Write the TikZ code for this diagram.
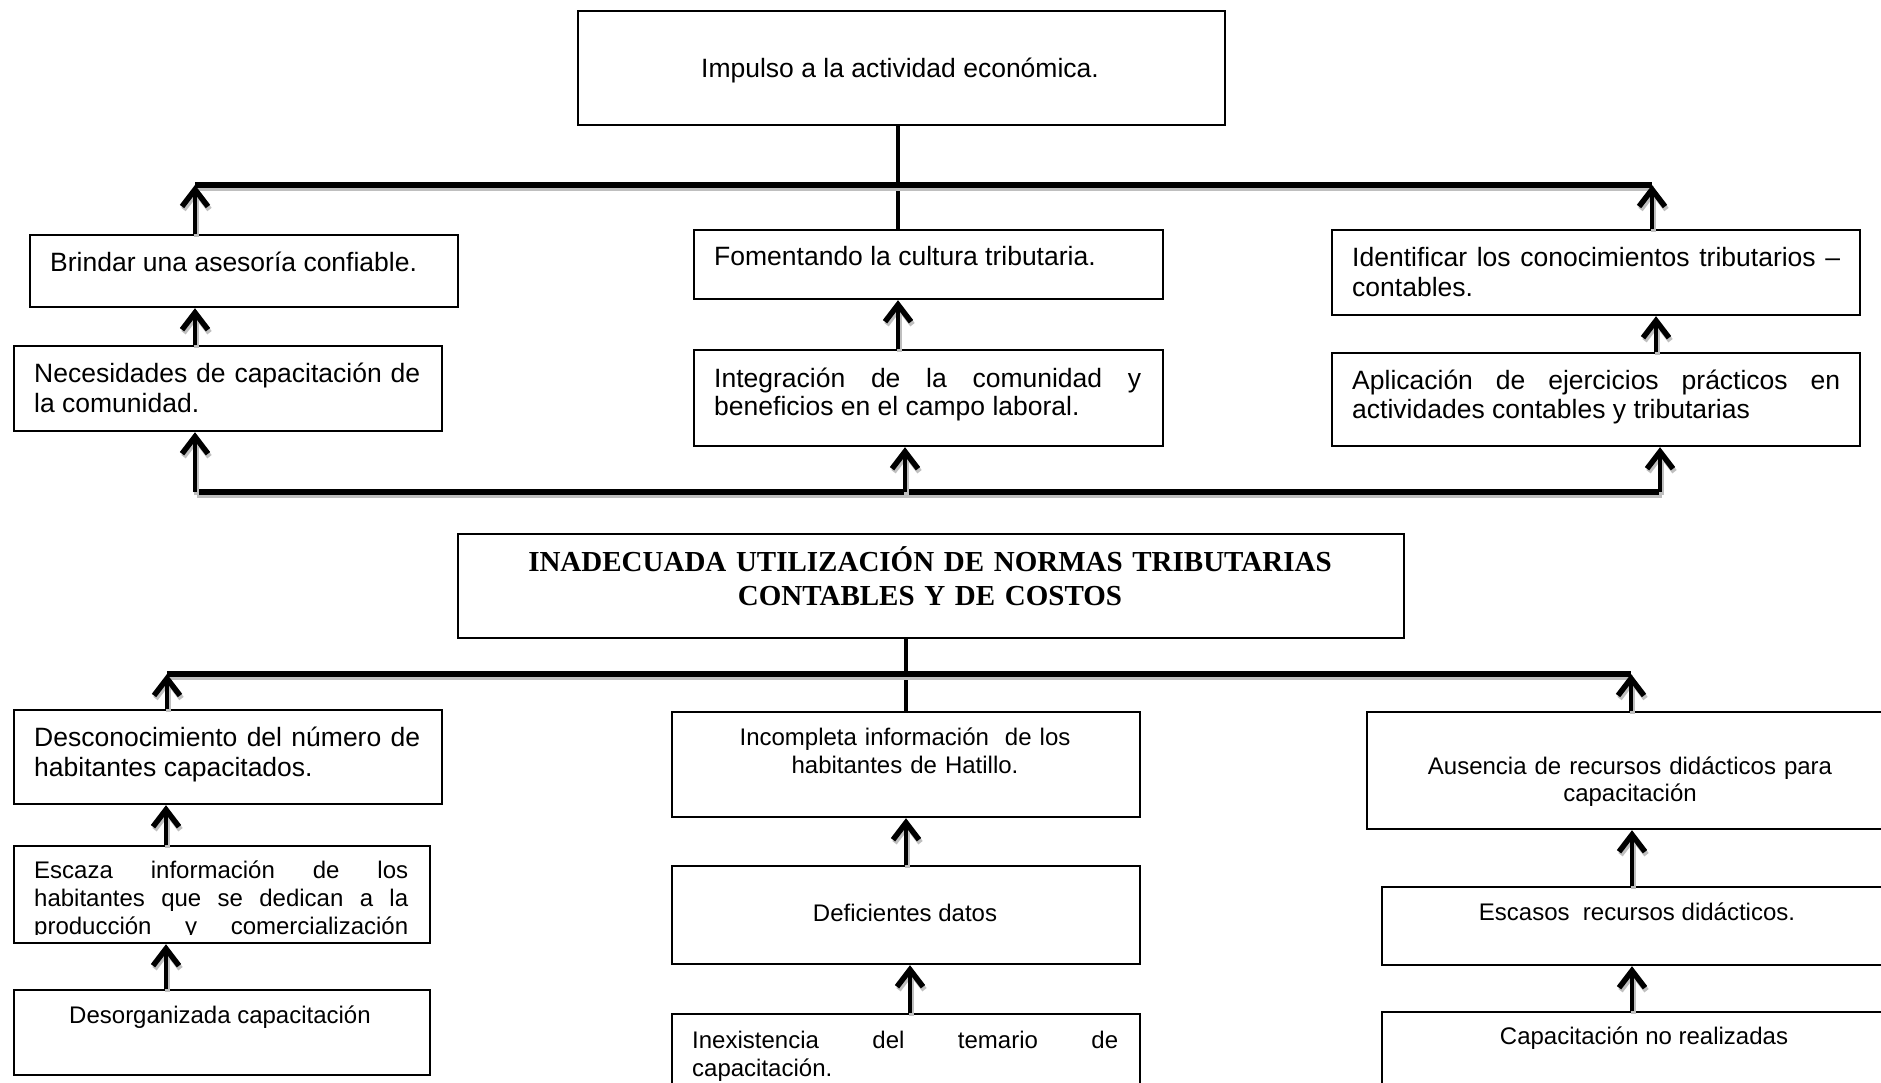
\documentclass[tikz,border=0pt]{standalone}
\usepackage{fontspec}
\setmainfont{Liberation Sans}
\newfontfamily\serifbold{Liberation Serif}
\usetikzlibrary{arrows.meta}
\hyphenpenalty=10000
\exhyphenpenalty=10000
\newcommand\shcon[2]{\draw[consh] #1 -- #2; \draw[con] #1 -- #2;}
\newcommand\shbar[2]{\draw[barsh] #1 -- #2; \draw[bar] #1 -- #2;}
\begin{document}
\begin{tikzpicture}[x=1pt,y=-1pt,
  box/.style={draw=black, line width=2.2pt, inner sep=0pt, anchor=north west},
  big/.style={font=\fontsize{26.5}{30}\selectfont},
  small/.style={font=\fontsize{24}{28}\selectfont},
  lt/.style={anchor=base west, inner sep=0pt},
  ct/.style={anchor=base, inner sep=0pt, align=center},
  bar/.style={line width=5.5pt, line cap=butt},
  barsh/.style={line width=5.5pt, gray!50, transform canvas={shift={(2pt,-3.5pt)}}},
  con/.style={line width=4.5pt, -{Straight Barb[length=17pt,width=26pt,line width=5.5pt]}},
  consh/.style={con, gray!50, transform canvas={shift={(1.5pt,-3pt)}}},
  plain/.style={line width=4.5pt},
]
\clip (0,0) rectangle (1881,1083);
\fill[white] (0,0) rectangle (1881,1083);

% ---------- boxes ----------
\node[box, minimum width=647pt, minimum height=114pt] (T) at (577,10) {};
\node[box, minimum width=428pt, minimum height=72pt] (bri) at (29,234) {};
\node[box, minimum width=469pt, minimum height=69pt] (fom) at (693,229) {};
\node[box, minimum width=528pt, minimum height=85pt] (ide) at (1331,229) {};
\node[box, minimum width=428pt, minimum height=85pt] (nec) at (13,345) {};
\node[box, minimum width=469pt, minimum height=96pt] (int) at (693,349) {};
\node[box, minimum width=528pt, minimum height=93pt] (apl) at (1331,352) {};
\node[box, minimum width=946pt, minimum height=104pt] (tit) at (457,533) {};
\node[box, minimum width=428pt, minimum height=94pt] (des) at (13,709) {};
\node[box, minimum width=468pt, minimum height=105pt] (inc) at (671,711) {};
\node[box, minimum width=530pt, minimum height=117pt] (aus) at (1366,711) {};
\node[box, minimum width=416pt, minimum height=97pt] (esc) at (13,845) {};
\node[box, minimum width=468pt, minimum height=98pt] (def) at (671,865) {};
\node[box, minimum width=515pt, minimum height=78pt] (eso) at (1381,886) {};
\node[box, minimum width=416pt, minimum height=85pt] (dor) at (13,989) {};
\node[box, minimum width=468pt, minimum height=100pt] (inx) at (671,1013) {};
\node[box, minimum width=530pt, minimum height=100pt] (cap) at (1381,1011) {};

% ---------- texts ----------
\node[big, ct] (Tt) at (900,77.5) {Impulso a la actividad económica.};
\node[big, lt] (brit) at (50,271.5) {Brindar una asesoría confiable.};
\node[big, lt, text width=386pt, align=justify] (nect) at (34,382.5) {Necesidades de capacitación de\linebreak la comunidad.};
\node[big, lt] (fomt) at (714,265.5) {Fomentando la cultura tributaria.};
\node[lt, text width=427pt, align=justify, font=\fontsize{26.5}{28}\selectfont] (intt) at (714,387.5) {Integración de la comunidad y\linebreak beneficios en el campo laboral.};
\node[big, lt, text width=488pt, align=justify] (idet) at (1352,266.5) {Identificar los conocimientos tributarios –\linebreak contables.};
\node[lt, text width=488pt, align=justify, font=\fontsize{26.5}{29}\selectfont] (aplt) at (1352,389.5) {Aplicación de ejercicios prácticos en\linebreak actividades contables y tributarias};

\node[ct, text width=930pt, font=\serifbold\bfseries\fontsize{29}{34}\selectfont] (titt) at (930,571.6) {INADECUADA UTILIZACIÓN DE NORMAS TRIBUTARIAS\\CONTABLES Y DE COSTOS};

\node[big, lt, text width=386pt, align=justify] (dest) at (34,746.5) {Desconocimiento del número de\linebreak habitantes capacitados.};
\begin{scope}
\clip (13,845) rectangle (429,934);
\node[small, lt, text width=374pt, align=justify] (esct) at (34,878.6) {Escaza información de los\linebreak habitantes que se dedican a la\linebreak \makebox[\linewidth][s]{producción y comercialización}};
\end{scope}
\node[small, ct] (dort) at (220,1023.6) {Desorganizada capacitación};
\node[small, ct, text width=450pt] (inct) at (905,745.6) {Incompleta información\ \ de los\\habitantes de Hatillo.};
\node[small, ct] (deft) at (905,921.6) {Deficientes datos};
\node[small, lt, text width=426pt, align=justify] (inxt) at (692,1048.6) {Inexistencia del temario de\linebreak capacitación.};
\node[ct, text width=500pt, font=\fontsize{24}{27}\selectfont] (aust) at (1630,774) {Ausencia de recursos didácticos para\\capacitación};
\node[small, ct] (esot) at (1637,920.6) {Escasos\ \ recursos didácticos.};
\node[small, ct] (capt) at (1644,1044.6) {Capacitación no realizadas};

% ---------- coordinates ----------
\coordinate (xA) at (195,0);
\coordinate (xB) at (898,0);
\coordinate (xC) at (1656,0);
\coordinate (b1L) at (195,185);
\coordinate (b1R) at (1652,185);
\coordinate (b2L) at (195,492);
\coordinate (b2M) at (905,492);
\coordinate (b2R) at (1660,492);
\coordinate (b3L) at (167,674);
\coordinate (b3R) at (1631,674);
\coordinate (xD) at (166,0);
\coordinate (xE) at (906,0);
\coordinate (xE2) at (910,0);
\coordinate (xF) at (1632,0);

% ---------- upper connectors ----------
\draw[plain] (T.south -| xB) -- (fom.north -| xB);
\shbar{(b1L)}{(b1R)}
\shcon{(bri.north -| b1L)}{(b1L)}
\shcon{(ide.north -| b1R)}{(b1R)}
\shcon{(nec.north -| xA)}{(bri.south -| xA)}
\shcon{(int.north -| xB)}{(fom.south -| xB)}
\shcon{(apl.north -| xC)}{(ide.south -| xC)}
\shbar{(b2L)}{(b2R)}
\shcon{(b2L)}{(nec.south -| b2L)}
\shcon{(b2M)}{(int.south -| b2M)}
\shcon{(b2R)}{(apl.south -| b2R)}

% ---------- lower connectors ----------
\draw[plain] (tit.south -| xE) -- (inc.north -| xE);
\shbar{(b3L)}{(b3R)}
\shcon{(des.north -| b3L)}{(b3L)}
\shcon{(aus.north -| b3R)}{(b3R)}
\shcon{(esc.north -| xD)}{(des.south -| xD)}
\shcon{(dor.north -| xD)}{(esc.south -| xD)}
\shcon{(def.north -| xE)}{(inc.south -| xE)}
\shcon{(inx.north -| xE2)}{(def.south -| xE2)}
\shcon{(eso.north -| xF)}{(aus.south -| xF)}
\shcon{(cap.north -| xF)}{(eso.south -| xF)}
\end{tikzpicture}
\end{document}
